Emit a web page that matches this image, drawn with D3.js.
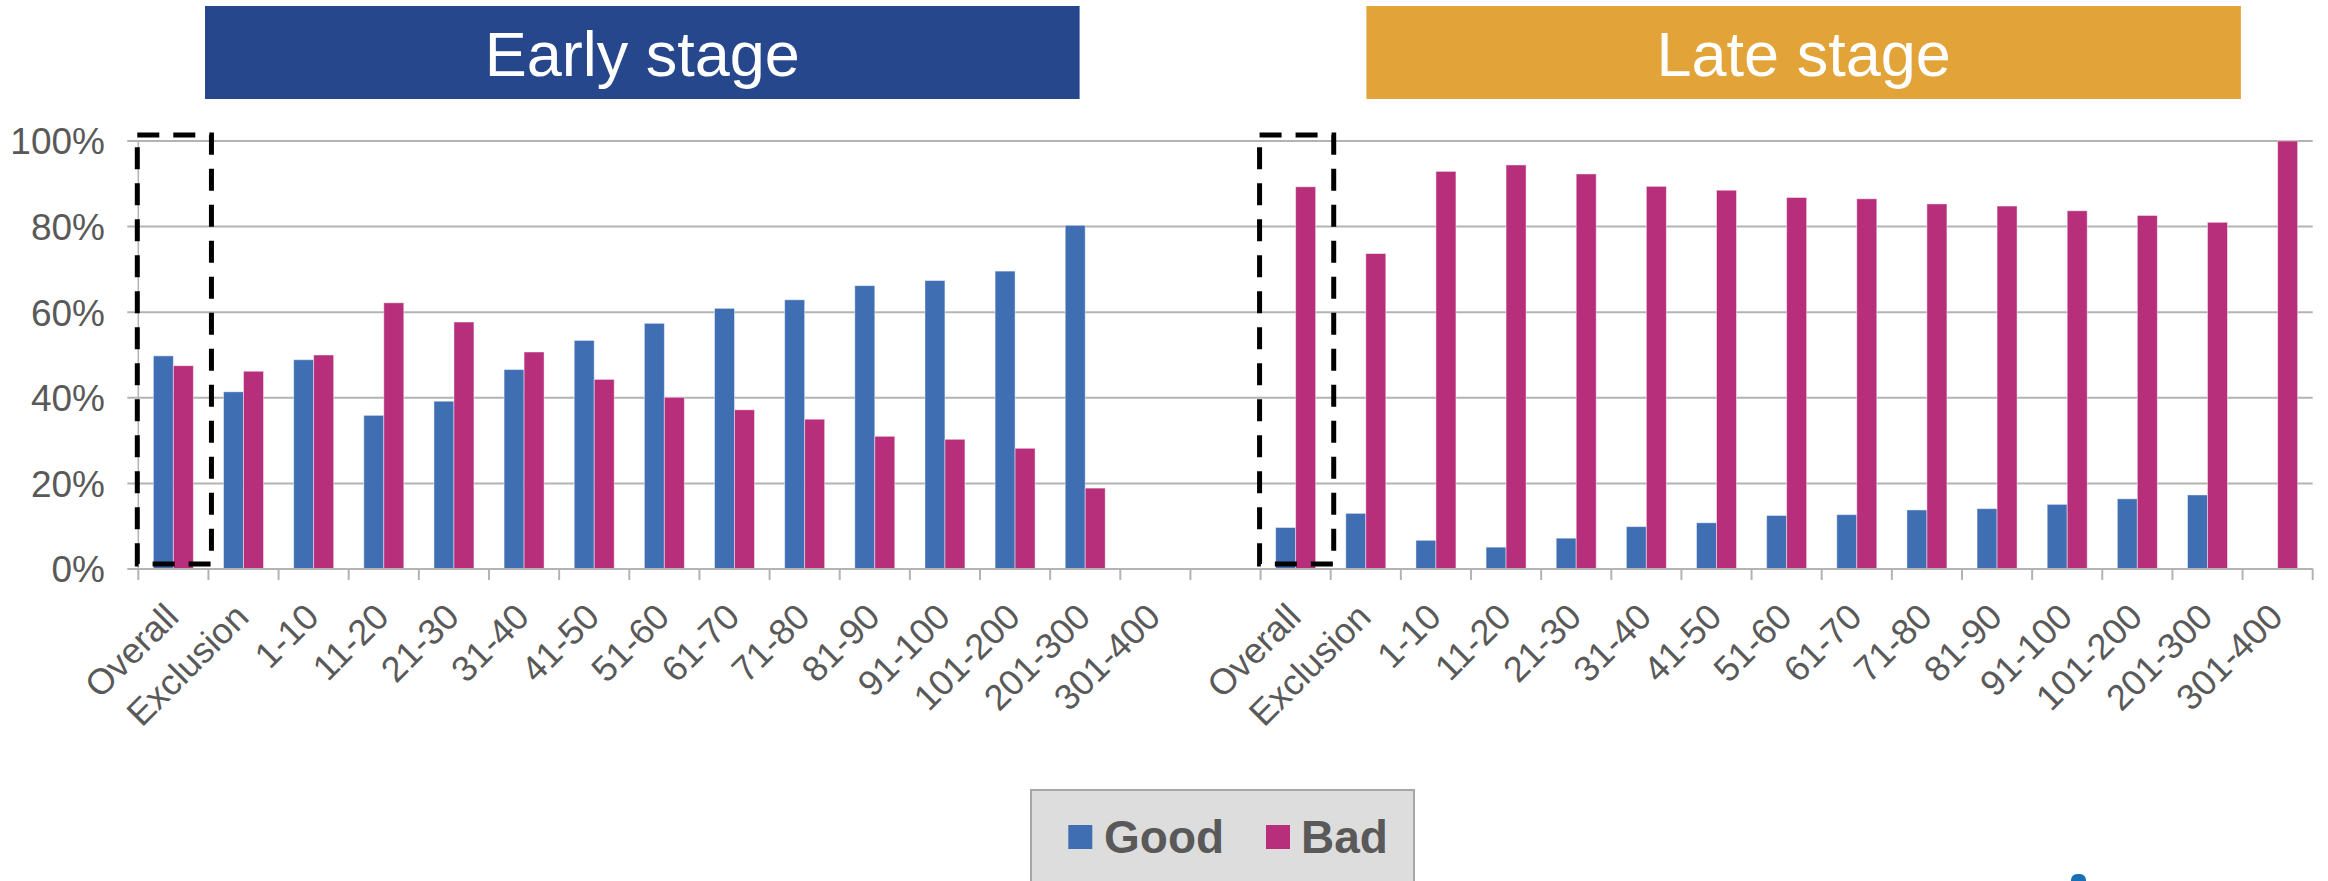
<!DOCTYPE html>
<html>
<head>
<meta charset="utf-8">
<script src="https://cdn.jsdelivr.net/npm/d3@7"></script>
<style>
  html, body { margin: 0; padding: 0; background: #ffffff; }
  svg { display: block; }
  text { font-family: "Liberation Sans", Arial, Helvetica, sans-serif; }
</style>
</head>
<body>
<div id="chart"></div>
<script>
// ---------------- data ----------------
const categories = ["Overall","Exclusion","1-10","11-20","21-30","31-40","41-50","51-60","61-70","71-80","81-90","91-100","101-200","201-300","301-400"];
const stages = ["Early stage", "Late stage"];
const series = ["Good", "Bad"];
const earlyGood = [0.498,0.414,0.489,0.359,0.392,0.466,0.534,0.574,0.609,0.629,0.662,0.674,0.696,0.803,null];
const earlyBad  = [0.475,0.462,0.500,0.622,0.577,0.507,0.443,0.401,0.372,0.350,0.310,0.303,0.282,0.189,null];
const lateGood  = [0.097,0.130,0.067,0.051,0.072,0.099,0.108,0.125,0.127,0.138,0.141,0.151,0.164,0.173,null];
const lateBad   = [0.893,0.737,0.929,0.944,0.923,0.894,0.885,0.868,0.865,0.853,0.848,0.837,0.826,0.810,1.000];
const yTicks = [0, 0.2, 0.4, 0.6, 0.8, 1.0];
const highlighted = ["Overall"];

// ---------------- styles ----------------
const W = 2328, H = 881;
const colors = { Good: "#3F6EB3", Bad: "#B72E7B" };
const stageColors = { "Early stage": "#26478C", "Late stage": "#E2A338" };
const textGray = "#595959";
const gridGray = "#B3B3B3";

const svg = d3.select("#chart").append("svg").attr("width", W).attr("height", H);

// category keys: early block, gap, late block
const keys = [];
categories.forEach((c, i) => keys.push("E|" + i));
keys.push("gap");
categories.forEach((c, i) => keys.push("L|" + i));
const labelOf = k => k === "gap" ? "" : categories[+k.split("|")[1]];

const x0 = d3.scaleBand().domain(keys).range([138.3, 2312.7]).paddingInner(0).paddingOuter(0);
const x1 = d3.scaleBand().domain(series).range([0, x0.bandwidth()]).paddingInner(0).paddingOuter(0.754);
const y = d3.scaleLinear().domain([0, 1]).range([569, 141]);

// ---------------- title banners ----------------
const banners = [
  { name: stages[0], x0: 205, x1: 1079.6 },
  { name: stages[1], x0: 1366.4, x1: 2240.9 }
];
banners.forEach(b => {
  svg.append("rect").attr("x", b.x0).attr("y", 6).attr("width", b.x1 - b.x0).attr("height", 93)
    .attr("fill", stageColors[b.name]);
  svg.append("text").attr("x", (b.x0 + b.x1) / 2).attr("y", 76)
    .attr("text-anchor", "middle").attr("fill", "#ffffff")
    .style("font-size", "63px").text(b.name);
});

// ---------------- gridlines ----------------
svg.append("g").selectAll("line").data(yTicks).join("line")
  .attr("x1", 127.3).attr("x2", 2312.7)
  .attr("y1", d => y(d)).attr("y2", d => y(d))
  .attr("stroke", gridGray).attr("stroke-width", 2);

// y axis line
svg.append("line").attr("x1", 138.3).attr("x2", 138.3).attr("y1", y(1)).attr("y2", y(0))
  .attr("stroke", gridGray).attr("stroke-width", 1.5);

// y labels
svg.append("g").selectAll("text").data(yTicks).join("text")
  .attr("x", 105).attr("y", d => y(d)).attr("dy", "0.36em")
  .attr("text-anchor", "end").attr("fill", textGray)
  .style("font-size", "37px")
  .text(d => d3.format(".0%")(d));

// ---------------- bars ----------------
const rows = [];
categories.forEach((c, i) => {
  rows.push({ key: "E|" + i, Good: earlyGood[i], Bad: earlyBad[i] });
  rows.push({ key: "L|" + i, Good: lateGood[i], Bad: lateBad[i] });
});
const barG = svg.append("g");
rows.forEach(r => {
  series.forEach(s => {
    const v = r[s];
    if (v == null || v <= 0) return;
    barG.append("rect")
      .attr("x", x0(r.key) + x1(s))
      .attr("y", y(v))
      .attr("width", x1.bandwidth())
      .attr("height", y(0) - y(v))
      .attr("fill", colors[s])
      .attr("stroke", "rgba(255,255,255,0.45)")
      .attr("stroke-width", 1);
  });
});

// ---------------- x axis ----------------
svg.append("line").attr("x1", 138.3).attr("x2", 2312.7).attr("y1", y(0)).attr("y2", y(0))
  .attr("stroke", gridGray).attr("stroke-width", 2);
const boundaries = keys.map(k => x0(k)).concat([x0.range()[1]]);
svg.append("g").selectAll("line").data(boundaries).join("line")
  .attr("x1", d => d).attr("x2", d => d)
  .attr("y1", y(0)).attr("y2", y(0) + 11)
  .attr("stroke", gridGray).attr("stroke-width", 2);

svg.append("g").selectAll("text").data(keys.filter(k => k !== "gap")).join("text")
  .attr("transform", k => `translate(${x0(k) + x0.bandwidth() / 2 - 2},${610}) rotate(-45)`)
  .attr("text-anchor", "end").attr("dy", "0.36em")
  .attr("fill", textGray).style("font-size", "36px")
  .text(labelOf);

// ---------------- dashed highlight boxes ----------------
keys.filter(k => k !== "gap" && highlighted.includes(labelOf(k))).forEach(k => {
  const bx = x0(k) - 1, bw = x0.bandwidth() + 4;
  svg.append("rect")
    .attr("x", bx).attr("y", y(1) - 6)
    .attr("width", bw).attr("height", (y(0) - 5) - (y(1) - 6))
    .attr("fill", "none").attr("stroke", "#000000")
    .attr("stroke-width", 5).attr("stroke-dasharray", "22 14");
});

// ---------------- legend ----------------
const lg = svg.append("g");
lg.append("rect").attr("x", 1031).attr("y", 790).attr("width", 383).attr("height", 110)
  .attr("fill", "#DDDDDD").attr("stroke", "#A6A6A6").attr("stroke-width", 2);
const legendItems = [
  { s: series[0], sx: 1068.3, tx: 1104 },
  { s: series[1], sx: 1266, tx: 1301 }
];
legendItems.forEach(it => {
  lg.append("rect").attr("x", it.sx).attr("y", 825).attr("width", 24).attr("height", 24)
    .attr("fill", colors[it.s]);
  lg.append("text").attr("x", it.tx).attr("y", 852.5)
    .attr("fill", textGray).style("font-size", "46px").style("font-weight", "bold")
    .text(it.s);
});

// small cropped logo fragment at bottom edge
svg.append("rect").attr("x", 2071).attr("y", 874).attr("width", 15).attr("height", 14).attr("rx", 6)
  .attr("fill", "#1A6EB5");
</script>
</body>
</html>
